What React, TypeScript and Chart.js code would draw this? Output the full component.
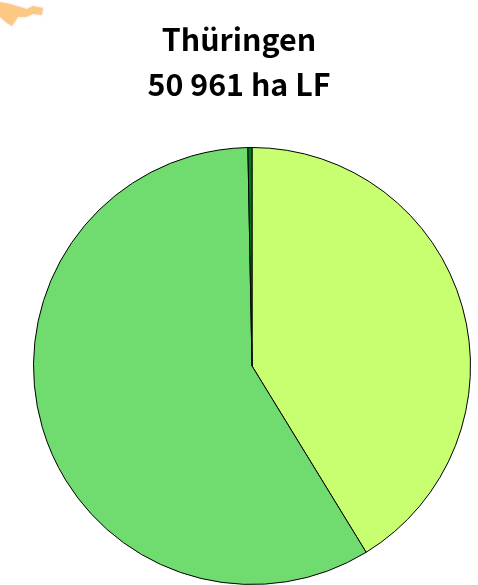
import React, { useEffect, useRef } from "react";
import { Chart, registerables } from "chart.js";

Chart.register(...registerables);

const titleLines = ["Thüringen", "50 961 ha LF"];
const categories = ["A", "B", "C"];
const values = [41.25, 58.45, 0.3];
const colors = ["#c8ff70", "#70dc70", "#007a20"];

const centreTitle = {
  id: "centreTitle",
  afterLayout(chart: any) {
    if (chart.titleBlock) {
      chart.titleBlock.left = 0;
      chart.titleBlock.right = chart.width;
    }
  },
};

export default function App() {
  const ref = useRef<HTMLCanvasElement>(null);
  useEffect(() => {
    const chart = new Chart(ref.current!, {
      type: "pie",
      data: {
        labels: categories,
        datasets: [{ data: values, backgroundColor: colors, borderColor: "#000", borderWidth: 1 }],
      },
      plugins: [centreTitle],
      options: {
        animation: false,
        responsive: false,
        layout: { padding: { left: 33, right: 7, top: 0, bottom: 0 } },
        plugins: {
          legend: { display: false },
          tooltip: { enabled: false },
          title: {
            display: true,
            text: titleLines,
            color: "#000",
            font: { family: "'Noto Sans CJK SC'", size: 30.4, weight: "bold", lineHeight: 1.48 },
            padding: { top: 17, bottom: 40 },
            fullSize: true,
          },
        },
      },
    } as any);
    return () => chart.destroy();
  }, []);
  return (
    <div style={{ position: "fixed", left: 0, top: 0, width: 478, height: 585, background: "#fff" }}>
      <svg width={478} height={585} style={{ position: "absolute", left: 0, top: 0 }}>
        <path
          d="M0 2 L10 4 L20 7 L27 9 L33 6 L43 8 L42 15 L33 14 L26 17 L18 17 L12 26 L7 23 L0 17 Z"
          fill="#fdc884"
          stroke="#f6f6f6"
          strokeWidth={3}
          paintOrder="stroke"
        />
      </svg>
      <canvas ref={ref} width={478} height={585} style={{ position: "absolute", left: 0, top: 0 }} />
    </div>
  );
}
